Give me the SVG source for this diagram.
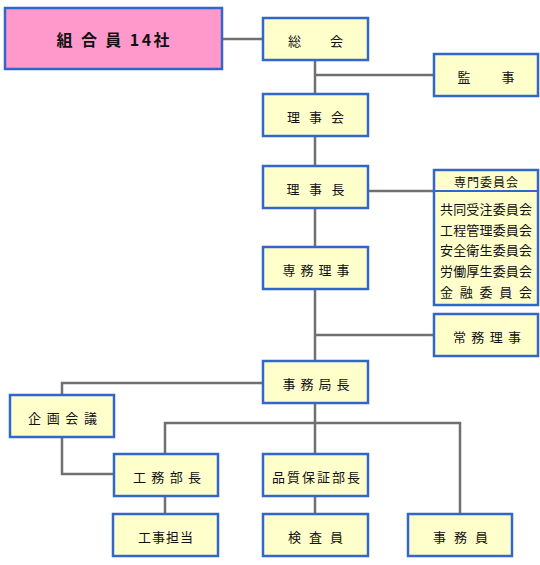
<svg xmlns="http://www.w3.org/2000/svg" width="540" height="565" viewBox="0 0 540 565">
<style>
.box{fill:#ffffcc;stroke:#3366cc;stroke-width:2.5}
.pink{fill:#ff99cc;stroke:#3366cc;stroke-width:2.5}
.t{font-family:"Noto Sans CJK JP","Noto Sans",sans-serif;font-size:13px;fill:#111;text-anchor:middle;dominant-baseline:central}
.tp{font-family:"Noto Sans CJK JP","Noto Sans",sans-serif;font-size:16px;font-weight:bold;fill:#111;text-anchor:middle;dominant-baseline:central}
.c{fill:none;stroke:#707070;stroke-width:2.5}
</style>
<g id="connectors">
<path class="c" d="M222,39 H263"/>
<path class="c" d="M315,60 V94"/>
<path class="c" d="M315,75 H434"/>
<path class="c" d="M315,136 V166"/>
<path class="c" d="M315,208 V247"/>
<path class="c" d="M368,191 H434"/>
<path class="c" d="M315,289 V361"/>
<path class="c" d="M315,335 H434"/>
<path class="c" d="M263,383 H62 V395"/>
<path class="c" d="M62,437 V474 H114"/>
<path class="c" d="M315,403 V454"/>
<path class="c" d="M165,454 V423 H460 V514"/>
<path class="c" d="M165,496 V514"/>
<path class="c" d="M315,496 V514"/>
</g>
<g id="kumiaiin"><rect class="pink" x="5" y="8" width="217" height="61"/><text class="tp" x="113" y="39" textLength="113" lengthAdjust="spacing">組 合 員 14社</text></g>
<g id="sokai"><rect class="box" x="263" y="18" width="105" height="42"/><text class="t" x="315.5" y="40" textLength="55" lengthAdjust="spacing">総　　会</text></g>
<g id="kanji"><rect class="box" x="434" y="54" width="104" height="42"/><text class="t" x="486" y="76" textLength="57" lengthAdjust="spacing">監　　事</text></g>
<g id="rijikai"><rect class="box" x="263" y="94" width="105" height="42"/><text class="t" x="315.5" y="116" textLength="57" lengthAdjust="spacing">理 事 会</text></g>
<g id="rijicho"><rect class="box" x="263" y="166" width="105" height="42"/><text class="t" x="315.5" y="188" textLength="58" lengthAdjust="spacing">理 事 長</text></g>
<g id="senmon"><rect class="box" x="434" y="170" width="104" height="135"/><path d="M434,191 H538" stroke="#3366cc" stroke-width="2"/>
<text class="t" x="486" y="181" style="font-size:12px" textLength="64" lengthAdjust="spacing">専門委員会</text>
<text class="t" x="486" y="208.5" textLength="92" lengthAdjust="spacing">共同受注委員会</text>
<text class="t" x="486" y="229" textLength="92" lengthAdjust="spacing">工程管理委員会</text>
<text class="t" x="486" y="249.5" textLength="92" lengthAdjust="spacing">安全衛生委員会</text>
<text class="t" x="486" y="270" textLength="92" lengthAdjust="spacing">労働厚生委員会</text>
<text class="t" x="486" y="291" textLength="92" lengthAdjust="spacing">金 融 委 員 会</text></g>
<g id="senmuriji"><rect class="box" x="263" y="247" width="105" height="42"/><text class="t" x="316" y="269" textLength="67" lengthAdjust="spacing">専 務 理 事</text></g>
<g id="jomuriji"><rect class="box" x="434" y="314" width="104" height="42"/><text class="t" x="487" y="336" textLength="68" lengthAdjust="spacing">常 務 理 事</text></g>
<g id="jimukyokucho"><rect class="box" x="263" y="361" width="105" height="42"/><text class="t" x="316" y="383" textLength="67" lengthAdjust="spacing">事 務 局 長</text></g>
<g id="kikakukaigi"><rect class="box" x="10" y="395" width="104" height="42"/><text class="t" x="62.5" y="417" textLength="69" lengthAdjust="spacing">企 画 会 議</text></g>
<g id="komubucho"><rect class="box" x="114" y="454" width="104" height="42"/><text class="t" x="167" y="476" textLength="68" lengthAdjust="spacing">工 務 部 長</text></g>
<g id="hinshitsu"><rect class="box" x="263" y="454" width="105" height="42"/><text class="t" x="316" y="476" textLength="88" lengthAdjust="spacing">品質保証部長</text></g>
<g id="kojitanto"><rect class="box" x="113" y="514" width="105" height="42"/><text class="t" x="165.5" y="536" textLength="55" lengthAdjust="spacing">工事担当</text></g>
<g id="kensain"><rect class="box" x="263" y="514" width="105" height="42"/><text class="t" x="315.5" y="536" textLength="55" lengthAdjust="spacing">検 査 員</text></g>
<g id="jimuin"><rect class="box" x="408" y="514" width="104" height="42"/><text class="t" x="460.5" y="536" textLength="55" lengthAdjust="spacing">事 務 員</text></g>
</svg>
